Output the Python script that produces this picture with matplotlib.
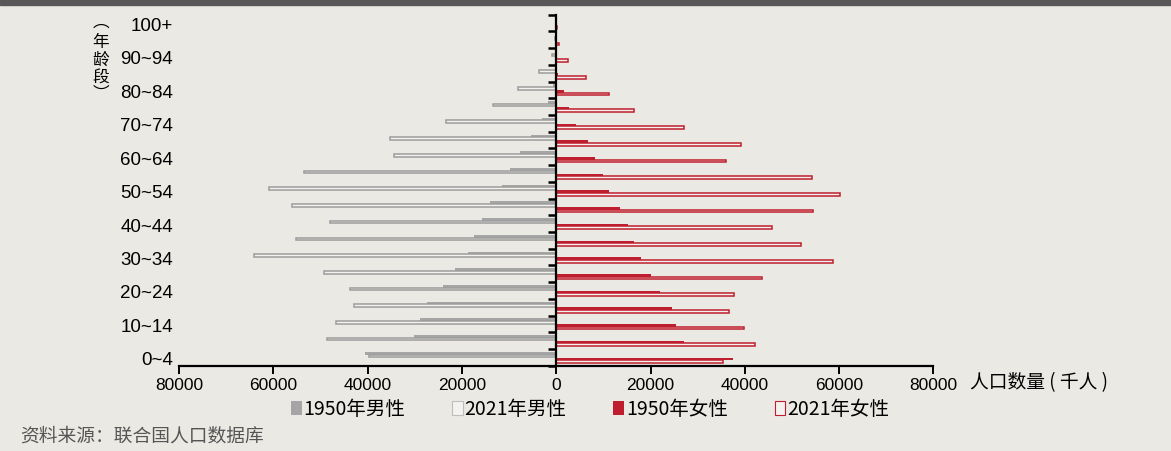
import matplotlib
matplotlib.use("Agg")
import matplotlib.pyplot as plt
from matplotlib.patches import Patch, Rectangle
from matplotlib.transforms import blended_transform_factory
import numpy as np

plt.rcParams['font.family'] = ['Noto Sans CJK SC', 'DejaVu Sans']

# Age groups, youngest first (thousands of people)
age_groups = ["0~4", "5~9", "10~14", "15~19", "20~24", "25~29", "30~34", "35~39",
              "40~44", "45~49", "50~54", "55~59", "60~64", "65~69", "70~74",
              "75~79", "80~84", "85~89", "90~94", "95~99", "100+"]
shown_labels = ["0~4", "10~14", "20~24", "30~34", "40~44", "50~54",
                "60~64", "70~74", "80~84", "90~94", "100+"]

male_1950 = [40500, 30100, 28900, 27500, 24000, 21400, 18800, 17500, 15700, 14100,
             11500, 9850, 7700, 5450, 3050, 1700, 700, 200, 50, 10, 0]
male_2021 = [39700, 48600, 46700, 43000, 43700, 49200, 64100, 55300, 47900, 56100,
             60900, 53500, 34400, 35200, 23300, 13500, 8100, 3600, 1000, 200, 30]
female_1950 = [37500, 27000, 25300, 24600, 21900, 20000, 17900, 16500, 15200, 13600,
               11100, 10000, 8300, 6700, 4200, 2700, 1600, 450, 100, 20, 0]
female_2021 = [35300, 42200, 39900, 36700, 37800, 43600, 58700, 52000, 45800, 54500,
               60200, 54300, 35900, 39200, 27100, 16500, 11200, 6400, 2400, 600, 150]

x_ticks = [-80000, -60000, -40000, -20000, 0, 20000, 40000, 60000, 80000]
x_tick_labels = ["80000", "60000", "40000", "20000", "0", "20000", "40000", "60000", "80000"]

BG = "#EBE9E3"
GREY = "#A5A5A5"
GREY_EDGE = "#9C9C9C"
RED = "#BE1E2D"
LIGHT = "#F4F2EE"
NUM_FONT = ['Liberation Sans', 'DejaVu Sans']

fig = plt.figure(figsize=(11.71, 4.52), dpi=100, facecolor=BG)
ax = fig.add_axes([0.1530, 0.1887, 0.6441, 0.7766], facecolor=BG)

y = np.arange(len(age_groups))
h = 0.16
ax.barh(y + 0.25, -np.array(male_1950), height=h, color=GREY, linewidth=0)
ax.barh(y + 0.09, -np.array(male_2021), height=h, color=LIGHT,
        edgecolor=GREY_EDGE, linewidth=1.1)
ax.barh(y - 0.09, female_1950, height=h, color=RED, linewidth=0)
ax.barh(y - 0.25, female_2021, height=h, color=LIGHT, edgecolor=RED, linewidth=1.1)

ax.set_xlim(-80000, 80000)
ax.set_ylim(-0.5, len(age_groups) - 0.5)

for s in ("top", "right"):
    ax.spines[s].set_visible(False)
ax.spines["left"].set_position(("data", 0))
ax.spines["left"].set_linewidth(1.6)
ax.spines["bottom"].set_linewidth(1.6)
ax.spines["left"].set_zorder(5)

ax.set_xticks(x_ticks)
ax.set_xticklabels(x_tick_labels, fontsize=12.5, family=NUM_FONT)
ax.tick_params(axis="x", direction="out", length=6, width=1.4, pad=2, color="black")

ax.set_yticks(np.arange(-0.5, len(age_groups), 1.0))
ax.set_yticklabels([])
ax.tick_params(axis="y", direction="out", length=6, width=1.8, color="black")

trans = blended_transform_factory(ax.transAxes, ax.transData)
for i, lab in enumerate(age_groups):
    if lab in shown_labels:
        ax.text(-0.0085, i - 0.15, lab, transform=trans, ha="right", va="center",
                fontsize=13.5, family=NUM_FONT)

# vertical axis title, one character per line
title_chars = ["︵", "年", "龄", "段", "︶"]
title_y = [22, 42, 60, 78, 94]
for ch, py in zip(title_chars, title_y):
    fig.text(101 / 1171, 1 - py / 452, ch, ha="center", va="center", fontsize=12)

fig.text(970 / 1171, 1 - 383 / 452, "人口数量 ( 千人 )", ha="left", va="center", fontsize=13.5)

handles = [
    Patch(facecolor=GREY, edgecolor=GREY, linewidth=0),
    Patch(facecolor=LIGHT, edgecolor="#BDBDBD", linewidth=0.8),
    Patch(facecolor=RED, edgecolor=RED, linewidth=0),
    Patch(facecolor=LIGHT, edgecolor=RED, linewidth=0.8),
]
labels = ["1950年男性", "2021年男性", "1950年女性", "2021年女性"]
fig.legend(handles, labels, loc="center", bbox_to_anchor=(590 / 1171, 1 - 410 / 452),
           ncol=4, frameon=False, fontsize=14, handlelength=0.55, handleheight=0.75,
           handletextpad=0.1, columnspacing=2.4)

fig.text(20 / 1171, 1 - 436 / 452, "资料来源：联合国人口数据库", ha="left", va="center",
         fontsize=13.5, color="#555555")

# dark band along the top edge
fig.patches.append(Rectangle((0, 1 - 6 / 452), 1, 6 / 452, transform=fig.transFigure,
                             color="#595757", zorder=10))

fig.savefig("out.png", dpi=100, facecolor=BG)
